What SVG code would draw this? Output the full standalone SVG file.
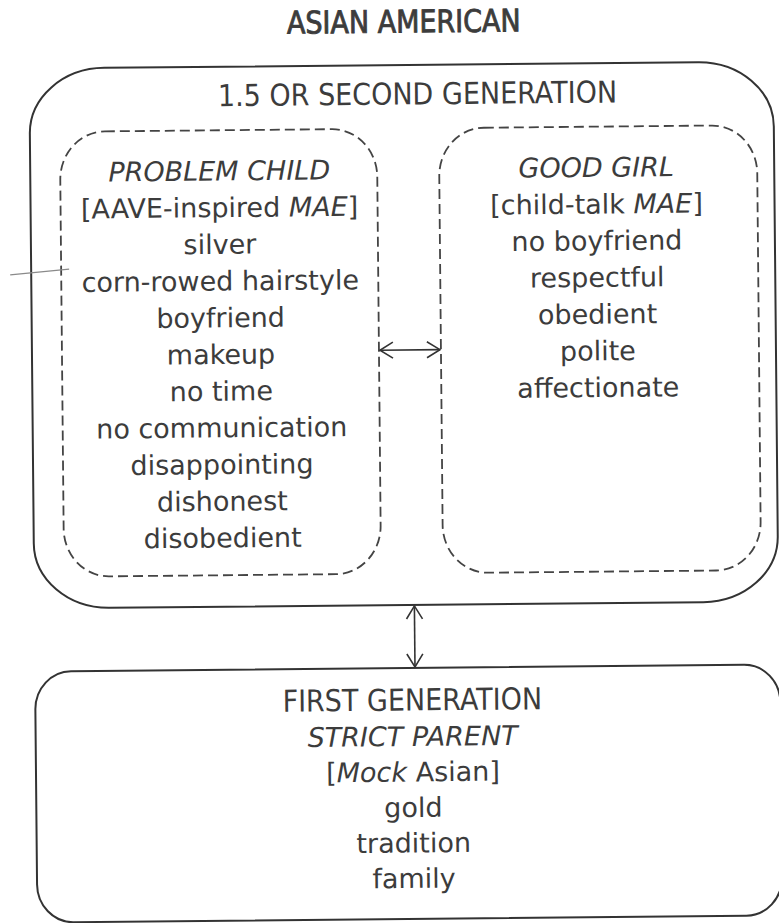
<svg xmlns="http://www.w3.org/2000/svg" width="779" height="923" viewBox="0 0 779 923">
<style>
  text{font-family:"DejaVu Sans",Verdana,sans-serif;font-size:27px;fill:#3c3c3c;text-anchor:middle}
  .it{font-style:italic}
  .title{stroke:#3c3c3c;stroke-width:0.8}
  .solid{fill:none;stroke:#333;stroke-width:2}
  .dash{fill:none;stroke:#444;stroke-width:1.8;stroke-dasharray:10 5}
  .conn{fill:none;stroke:#333;stroke-width:1.6}
</style>
<defs>
  <marker id="v" viewBox="0 0 20 20" markerWidth="20" markerHeight="20" refX="14" refY="10" orient="auto-start-reverse" markerUnits="userSpaceOnUse">
    <path d="M1,2 L14,10 L1,18" fill="none" stroke="#333" stroke-width="1.6"/>
  </marker>
</defs>
<rect width="779" height="923" fill="#fff"/>
<g transform="rotate(-0.55 405 460)">
  <g id="asian-american">
    <text class="title" transform="translate(408 32.5) scale(1 1.15)" x="0" y="0">ASIAN AMERICAN</text>
  </g>
  <g id="second-generation">
    <rect class="solid" x="33" y="65" width="744" height="540" rx="75" ry="65"/>
    <text transform="translate(421 104.5) scale(1 1.12)" x="0" y="0">1.5 OR SECOND GENERATION</text>
  </g>
  <g id="problem-child">
    <rect class="dash" x="63" y="128.5" width="317" height="445" rx="45" ry="48"/>
    <text class="it" x="222" y="178.7">PROBLEM CHILD</text>
    <text x="222" y="215.4">[AAVE-inspired <tspan class="it">MAE</tspan>]</text>
    <text x="222" y="252.1">silver</text>
    <text x="222" y="288.8">corn-rowed hairstyle</text>
    <text x="222" y="325.5">boyfriend</text>
    <text x="222" y="362.2">makeup</text>
    <text x="222" y="398.9">no time</text>
    <text x="222" y="435.6">no communication</text>
    <text x="222" y="472.3">disappointing</text>
    <text x="222" y="509">dishonest</text>
    <text x="222" y="545.7">disobedient</text>
  </g>
  <g id="good-girl">
    <rect class="dash" x="442" y="128.5" width="318" height="445" rx="45" ry="48"/>
    <text class="it" x="599" y="178.7">GOOD GIRL</text>
    <text x="599" y="215.4">[child-talk <tspan class="it">MAE</tspan>]</text>
    <text x="599" y="252.1">no boyfriend</text>
    <text x="599" y="288.8">respectful</text>
    <text x="599" y="325.5">obedient</text>
    <text x="599" y="362.2">polite</text>
    <text x="599" y="398.9">affectionate</text>
  </g>
  <g id="first-generation">
    <rect class="solid" x="33" y="668" width="745" height="251" rx="36" ry="38"/>
    <text transform="translate(410 710.5) scale(1 1.12)" x="0" y="0">FIRST GENERATION</text>
    <text class="it" x="410" y="746">STRICT PARENT</text>
    <text x="410" y="781.5">[<tspan class="it">Mock</tspan> Asian]</text>
    <text x="410" y="817">gold</text>
    <text x="410" y="852.5">tradition</text>
    <text x="410" y="888">family</text>
  </g>
  <g id="connectors">
    <line class="conn" x1="381" y1="350" x2="441" y2="350" marker-start="url(#v)" marker-end="url(#v)"/>
    <line class="conn" x1="413" y1="606" x2="413" y2="667" marker-start="url(#v)" marker-end="url(#v)"/>
  </g>
  <line x1="12" y1="271" x2="71" y2="266" stroke="#8a8a8a" stroke-width="1.2"/>
</g>
</svg>
